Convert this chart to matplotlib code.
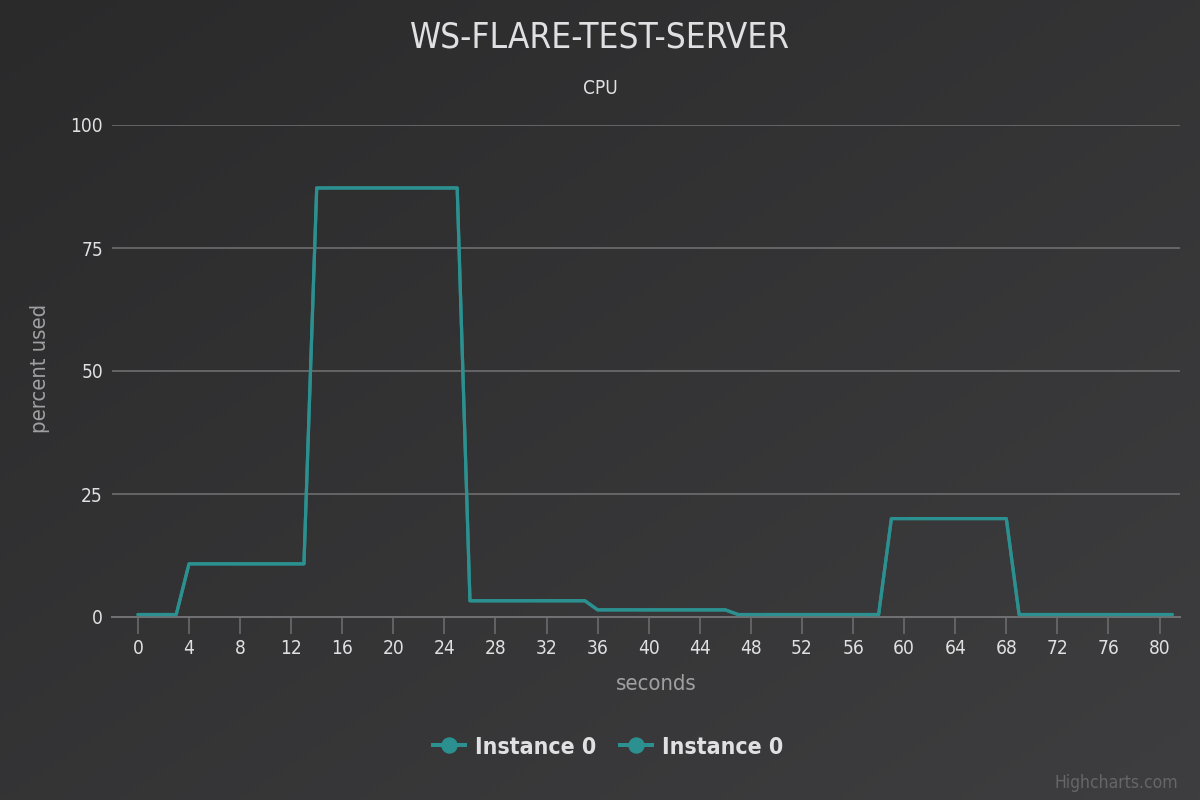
import numpy as np
import matplotlib
matplotlib.use("Agg")
import matplotlib.pyplot as plt
from matplotlib.lines import Line2D

plt.rcParams['font.family'] = ['DejaVu Sans']
plt.rcParams['font.stretch'] = 'condensed'

# ---- data ----
title = "WS-FLARE-TEST-SERVER"
subtitle = "CPU"
x_title = "seconds"
y_title = "percent used"
series_names = ["Instance 0", "Instance 0"]
seconds = list(range(0, 82))
cpu = [0.5, 0.5, 0.5, 0.5,
       10.8, 10.8, 10.8, 10.8, 10.8, 10.8, 10.8, 10.8, 10.8, 10.8,
       87.2, 87.2, 87.2, 87.2, 87.2, 87.2, 87.2, 87.2, 87.2, 87.2, 87.2, 87.2,
       3.3, 3.3, 3.3, 3.3, 3.3, 3.3, 3.3, 3.3, 3.3, 3.3,
       1.45, 1.45, 1.45, 1.45, 1.45, 1.45, 1.45, 1.45, 1.45, 1.45, 1.45,
       0.5, 0.5, 0.5, 0.5, 0.5, 0.5, 0.5, 0.5, 0.5, 0.5, 0.5, 0.5,
       20.0, 20.0, 20.0, 20.0, 20.0, 20.0, 20.0, 20.0, 20.0, 20.0,
       0.5, 0.5, 0.5, 0.5, 0.5, 0.5, 0.5, 0.5, 0.5, 0.5, 0.5, 0.5, 0.5]
series_values = [cpu, cpu]
x_ticks = list(range(0, 81, 4))
y_ticks = [0, 25, 50, 75, 100]
credits = "Highcharts.com"

# ---- styles ----
W, H = 1200, 800
LINE = '#2b908f'
TXT = '#E0E0E3'
AXT = '#A0A0A3'
GRID = '#707073'

fig = plt.figure(figsize=(12, 8), dpi=100)

# background gradient
bg = fig.add_axes([0, 0, 1, 1], zorder=-10)
bg.set_axis_off()
yy, xx = np.mgrid[0:1:200j, 0:1:300j]
t = (xx + yy) / 2
c0 = np.array([0x2a, 0x2a, 0x2b]) / 255
c1 = np.array([0x3e, 0x3e, 0x40]) / 255
img = c0[None, None, :] * (1 - t[..., None]) + c1[None, None, :] * t[..., None]
bg.imshow(img, extent=[0, 1, 0, 1], origin='upper', aspect='auto')
bg.set_xlim(0, 1)
bg.set_ylim(0, 1)

px = lambda v: v * 0.72  # px to points

L, R, T, B = 112, 1180, 125, 617
ax = fig.add_axes([L / W, 1 - B / H, (R - L) / W, (B - T) / H])
ax.set_facecolor('none')

for name, vals in zip(series_names, series_values):
    ax.plot(seconds, vals, color=LINE, lw=px(3.2), solid_joinstyle='round',
            solid_capstyle='round', zorder=5, clip_on=False)

ax.set_xlim(-2.03, 81.6)
ax.set_ylim(0, 100)
ax.set_xticks(x_ticks)
ax.set_yticks(y_ticks)
ax.set_xticklabels([str(v) for v in x_ticks])
ax.set_yticklabels([str(v) for v in y_ticks])
for s in ['top', 'right', 'left']:
    ax.spines[s].set_visible(False)
ax.spines['bottom'].set_color(GRID)
ax.spines['bottom'].set_linewidth(px(2))
ax.grid(axis='y', color=GRID, lw=px(1.6))
ax.set_axisbelow(True)
ax.tick_params(axis='x', colors=TXT, labelsize=px(19), length=px(17), width=px(1.5),
               color=GRID, pad=px(5))
ax.tick_params(axis='y', colors=TXT, labelsize=px(19), length=0, pad=px(9))

fig.text(600 / W, 1 - 37 / H, title, ha='center', va='center', color=TXT,
         fontsize=px(35))
fig.text(600 / W, 1 - 88 / H, subtitle, ha='center', va='center', color=TXT,
         fontsize=px(19))
fig.text(40 / W, 1 - 368 / H, y_title, ha='center', va='center', color=AXT,
         fontsize=px(22), rotation=90)
fig.text(656 / W, 1 - 684 / H, x_title, ha='center', va='center', color=AXT,
         fontsize=px(22))
fig.text(1178 / W, 1 - 783 / H, credits, ha='right', va='center', color='#666666',
         fontsize=px(17.5))

handles = [Line2D([0], [0], color=LINE, lw=px(4), marker='o', markersize=px(15))
           for _ in series_names]
leg = fig.legend(handles, series_names, loc='center', bbox_to_anchor=(608 / W, 1 - 747 / H),
                 ncol=2, frameon=False, handlelength=1.4, handletextpad=0.45,
                 columnspacing=1.0, prop={'size': px(23), 'weight': 'bold'})
for tx in leg.get_texts():
    tx.set_color(TXT)

fig.savefig('out.png', dpi=100)
